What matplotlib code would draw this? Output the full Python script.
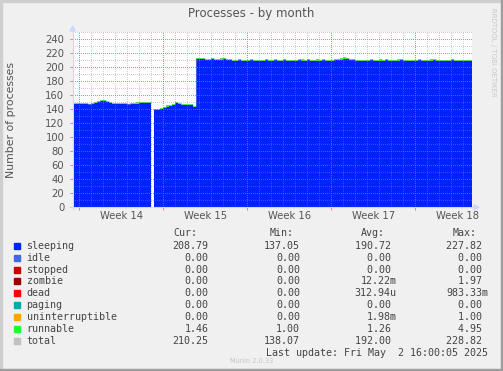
import numpy as np
import matplotlib
matplotlib.use("Agg")
import matplotlib.pyplot as plt
from matplotlib.lines import Line2D
from matplotlib.patches import Rectangle, Polygon

# ---------------- data ----------------
title = "Processes - by month"
ylabel = "Number of processes"
week_labels = ["Week 14", "Week 15", "Week 16", "Week 17", "Week 18"]
week_starts = [0.55, 7.55, 14.55, 21.55, 28.55]   # days from left edge (Mondays)
y_ticks = [0, 20, 40, 60, 80, 100, 120, 140, 160, 180, 200, 220, 240]
step_days = 0.25
x_span = 33.25

sleeping_seg1 = [148, 148, 147.5, 147.5, 147, 147, 147.5, 148.5, 150, 151.5, 151.5, 150.5, 149,
                 148, 147, 147, 147.5, 147.5, 147, 147, 147.5, 148, 149.5, 149, 148.5, 148.5]
gap = [np.nan]
sleeping_seg2 = [139, 139.5, 141, 142.5, 144, 145, 146, 148.5, 147.5, 146.5, 146.5, 146.5, 146.5, 144]
sleeping_seg3 = [211.5, 212, 211.5, 211, 211, 211.5, 211, 210.5, 211, 211.5, 211,
                 210, 209.5, 209.5, 210, 209.5, 209, 209.5, 210, 209.5, 209.5, 209, 209.5, 210, 209.5, 209.5, 210,
                 209.5, 209.5, 210, 209.5, 209, 209.5, 209.5, 210, 209.5, 209.5, 210, 209.5, 209, 209.5, 209.5, 210,
                 209.5, 209.5, 209.5, 210, 210, 211, 212.5, 212, 211, 210, 209.5, 209.5, 209, 209.5, 209.5, 210,
                 209.5, 209, 209.5, 209.5, 210, 209.5, 209.5, 209, 209.5, 210, 209.5, 209.5, 209, 209.5, 209.5, 210,
                 209.5, 209.5, 209, 209.5, 210, 209.5, 209.5, 209, 209.5, 209.5, 210, 209.5, 209, 209, 209.5, 209, 208.8]

runnable_seg1 = [1.2, 1.5, 1.3, 2.0, 1.4, 1.2, 1.6, 1.3, 2.2, 1.5, 1.3, 1.4, 1.8, 1.2, 1.5, 1.3, 2.0,
                 1.4, 1.2, 1.6, 1.3, 1.9, 1.5, 1.2, 1.4, 1.6]
runnable_seg2 = [1.3, 1.2, 1.5, 1.4, 1.8, 1.3, 1.2, 1.6, 1.5, 1.3, 1.4, 1.2, 1.5, 1.3]
runnable_seg3 = [1.5, 1.3, 1.8, 1.2, 1.4, 2.0, 1.3, 1.2, 1.6, 1.4, 1.3,
                 1.2, 1.5, 1.3, 1.9, 1.2, 1.4, 1.3, 1.6, 1.2, 1.5, 2.1, 1.3, 1.2, 1.4, 1.6, 1.3,
                 1.2, 1.4, 1.8, 1.3, 1.2, 1.5, 1.3, 1.2, 1.7, 1.4, 1.3, 1.2, 1.5, 1.9, 1.3, 1.2,
                 1.4, 1.3, 1.2, 1.6, 1.3, 1.8, 2.2, 1.9, 1.5, 1.3, 1.2, 1.4, 1.3, 1.6, 1.2, 1.5,
                 1.3, 1.2, 1.7, 1.4, 1.3, 1.2, 1.5, 1.3, 1.9, 1.2, 1.4, 1.3, 1.2, 1.6, 1.3, 1.4,
                 1.2, 1.5, 1.3, 1.8, 1.2, 1.4, 1.3, 1.6, 1.2, 1.3, 1.5, 1.2, 1.4, 1.3, 1.2, 1.5, 1.46]

legend_names = ["sleeping", "idle", "stopped", "zombie", "dead", "paging",
                "uninterruptible", "runnable", "total"]
legend_colors = ["#0022ff", "#4169e1", "#cc0000", "#990000", "#ff0000", "#00aaaa",
                 "#ffa500", "#22ff22", "#c0c0c0"]
cur_vals = ["208.79", "0.00", "0.00", "0.00", "0.00", "0.00", "0.00", "1.46", "210.25"]
min_vals = ["137.05", "0.00", "0.00", "0.00", "0.00", "0.00", "0.00", "1.00", "138.07"]
avg_vals = ["190.72 ", "0.00 ", "0.00 ", "12.22m", "312.94u", "0.00 ", "1.98m", "1.26 ", "192.00 "]
max_vals = ["227.82 ", "0.00 ", "0.00 ", "1.97 ", "983.33m", "0.00 ", "1.00 ", "4.95 ", "228.82 "]
last_update = "Last update: Fri May  2 16:00:05 2025"

# ---------------- figure ----------------
W, H = 503, 371
fig = plt.figure(figsize=(W / 100, H / 100), dpi=100)
fig.patch.set_facecolor("#f0f0f0")

def fx(x):
    return x / W

def fy(y):
    return 1 - y / H

# border shades
fig.patches.append(Rectangle((0, fy(2)), 1, 2 / H, transform=fig.transFigure, color="#cfcfcf", zorder=0))
fig.patches.append(Rectangle((0, 0), 2 / W, 1, transform=fig.transFigure, color="#cfcfcf", zorder=0))
fig.patches.append(Rectangle((fx(501), 0), 2 / W, 1, transform=fig.transFigure, color="#9e9e9e", zorder=1))
fig.patches.append(Rectangle((0, 0), 1, 2 / H, transform=fig.transFigure, color="#9e9e9e", zorder=1))

x0, x1 = 72.7, 471.7
y0, y1 = 207.3, 32.3
ax = fig.add_axes([fx(x0), fy(y0), (x1 - x0) / W, (y0 - y1) / H])
ax.set_facecolor("white")
ax.set_xlim(0, x_span)
ax.set_ylim(0, 250)
for s in ax.spines.values():
    s.set_visible(False)

sleeping = np.array(sleeping_seg1 + gap + sleeping_seg2 + sleeping_seg3, dtype=float)
runnable = np.array(runnable_seg1 + gap + runnable_seg2 + runnable_seg3, dtype=float)
total = sleeping + runnable
t = np.arange(len(sleeping)) * step_days

def segments(t, v, dt):
    ok = ~np.isnan(v)
    idx = np.where(ok)[0]
    splits = np.where(np.diff(idx) > 1)[0] + 1
    out = []
    for part in np.split(idx, splits):
        edges = np.append(t[part], t[part[-1]] + dt)
        xs = np.repeat(edges, 2)[1:-1]
        out.append((xs, part))
    return out

for xs, part in segments(t, sleeping, step_days):
    s = np.repeat(sleeping[part], 2)
    r = np.repeat(runnable[part], 2)
    ax.fill_between(xs, 0, s, color="#0022ff", linewidth=0, zorder=2)
    ax.fill_between(xs, s, s + r, color="#22ff22", linewidth=0, zorder=2)
    ax.plot(xs, np.repeat(total[part], 2), color="#b0b0b0", lw=0.5, alpha=0.6, zorder=3)

# grid (drawn over data, like rrdtool)
dot = (0, (1, 2))
for v in np.arange(10, 251, 10):
    if v % 20 == 0:
        ax.axhline(v, color="#de5050", alpha=0.7, lw=0.72, ls=dot, zorder=5, antialiased=False)
    else:
        ax.axhline(v, color="#8f8f8f", alpha=0.42, lw=0.72, ls=dot, zorder=5, antialiased=False)
for d in np.arange(week_starts[0] - 0, x_span, 1.0):
    if any(abs(d - w) < 1e-6 for w in week_starts):
        ax.axvline(d, color="#de5050", alpha=0.7, lw=0.72, ls=dot, zorder=5, antialiased=False)
    else:
        ax.axvline(d, color="#8f8f8f", alpha=0.42, lw=0.72, ls=dot, zorder=5, antialiased=False)

# ticks
ax.set_xticks(week_starts)
ax.set_xticklabels([])
ax.tick_params(axis="x", which="major", length=2, width=0.7, color="#e08080", direction="out")
ax.set_xticks([w + 3.5 for w in week_starts], minor=True)
ax.set_xticklabels(week_labels, minor=True)
ax.tick_params(axis="x", which="minor", length=0, pad=3, labelsize=7.2, labelcolor="#555555")
ax.set_yticks(y_ticks)
ax.set_yticklabels([str(v) for v in y_ticks])
ax.tick_params(axis="y", which="major", length=2, width=0.7, color="#e08080", direction="out",
               pad=4, labelsize=7.2, labelcolor="#555555")

# axis lines and arrows
ac = "#cfd6f8"
fig.lines.append(Line2D([fx(x0), fx(x0)], [fy(y0 + 2), fy(29)], transform=fig.transFigure, color=ac, lw=0.8))
fig.lines.append(Line2D([fx(x0 - 2), fx(476)], [fy(y0), fy(y0)], transform=fig.transFigure, color=ac, lw=0.8))
fig.patches.append(Polygon([[fx(x0 - 2.5), fy(31)], [fx(x0 + 2.5), fy(31)], [fx(x0), fy(26)]],
                           closed=True, transform=fig.transFigure, color=ac))
fig.patches.append(Polygon([[fx(474), fy(y0 - 2.5)], [fx(474), fy(y0 + 2.5)], [fx(479), fy(y0)]],
                           closed=True, transform=fig.transFigure, color=ac))

# texts
fig.text(fx(251), fy(14), title, ha="center", va="center", fontsize=8.5, color="#555555")
fig.text(fx(11), fy(120), ylabel, ha="center", va="center", rotation=90, fontsize=7.8, color="#555555")
fig.text(fx(493), fy(52), "RRDTOOL / TOBI OETIKER", ha="center", va="center", rotation=270,
         fontsize=5, color="#c8c8c8")

mono = "DejaVu Sans Mono"
fs = 7.2
tc = "#444444"
hy = 232.5
for txt, xl in [("Cur:", 173), ("Min:", 269.3), ("Avg:", 361), ("Max:", 452.3)]:
    fig.text(fx(xl), fy(hy), txt, ha="left", va="center", family=mono, fontsize=fs, color=tc)
row0, dy = 245.7, 11.92
for i, name in enumerate(legend_names):
    yy = row0 + i * dy
    fig.patches.append(Rectangle((fx(14), fy(yy + 3)), 6 / W, 6 / H, transform=fig.transFigure,
                                 color=legend_colors[i], zorder=3))
    fig.text(fx(26.5), fy(yy), name, ha="left", va="center", family=mono, fontsize=fs, color=tc)
    fig.text(fx(208.5), fy(yy), cur_vals[i], ha="right", va="center", family=mono, fontsize=fs, color=tc)
    fig.text(fx(300.2), fy(yy), min_vals[i], ha="right", va="center", family=mono, fontsize=fs, color=tc)
    fig.text(fx(396.8), fy(yy), avg_vals[i], ha="right", va="center", family=mono, fontsize=fs, color=tc)
    fig.text(fx(488.5), fy(yy), max_vals[i], ha="right", va="center", family=mono, fontsize=fs, color=tc)
fig.text(fx(488.5), fy(352.7), last_update, ha="right", va="center", family=mono, fontsize=fs, color=tc)
fig.text(fx(252), fy(361), "Munin 2.0.33", ha="center", va="center", fontsize=4.8, color="#c4c4c4")

fig.savefig("out.png", dpi=100, facecolor=fig.get_facecolor())
